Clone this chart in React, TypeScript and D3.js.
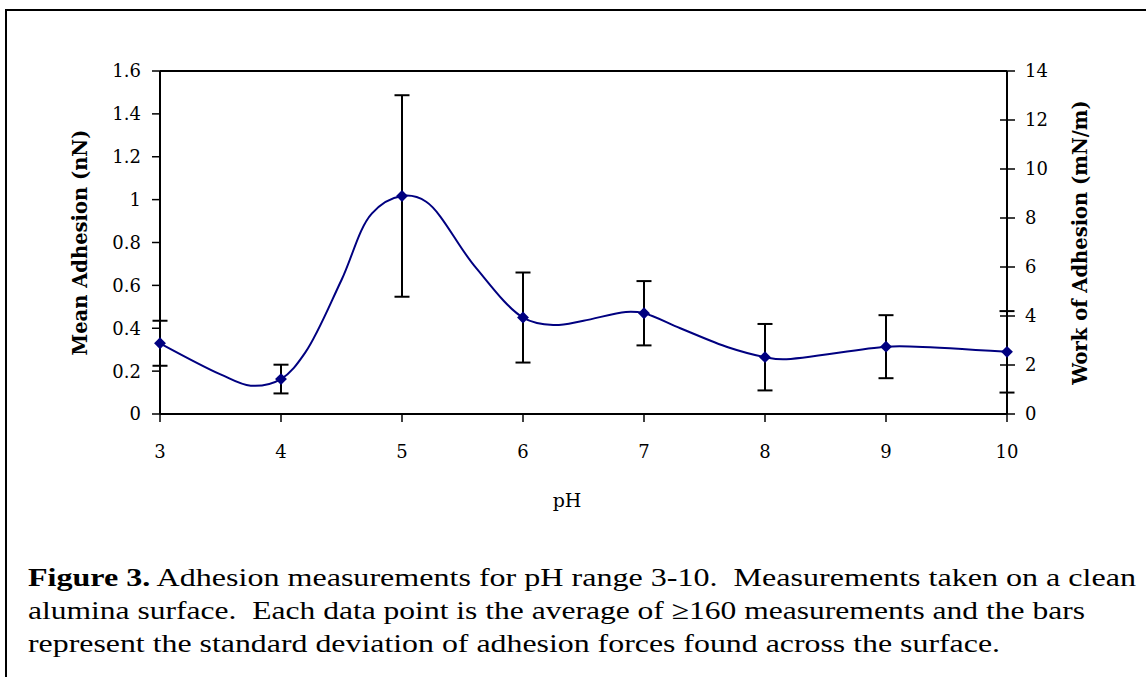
import React from 'react'
import * as d3 from 'd3'

// marker points with standard deviation bars
const pH = [3, 4, 5, 6, 7, 8, 9, 10]
const meanAdhesion = [0.33, 0.163, 1.017, 0.45, 0.47, 0.265, 0.314, 0.29]
const stdDev = [0.105, 0.067, 0.47, 0.21, 0.15, 0.155, 0.147, 0.19]

// smoothed trend line
const curvePH = [3, 3.5, 3.75, 4, 4.2, 4.5, 4.75, 5, 5.2, 5.6, 6, 6.25, 6.5, 6.85, 7, 7.3, 7.7, 8, 8.15, 9, 9.25, 10]
const curveValue = [0.33, 0.185, 0.132, 0.163, 0.286, 0.625, 0.935, 1.017, 0.99, 0.69, 0.45, 0.415, 0.435, 0.476, 0.47, 0.4, 0.31, 0.265, 0.255, 0.314, 0.314, 0.29]

const leftTicks = [0, 0.2, 0.4, 0.6, 0.8, 1, 1.2, 1.4, 1.6]
const rightTicks = [0, 2, 4, 6, 8, 10, 12, 14]

const captionLines = [
  { bold: 'Figure 3.', text: ' Adhesion measurements for pH range 3-10.  Measurements taken on a clean', width: 1108 },
  { bold: '', text: 'alumina surface.  Each data point is the average of \u2265160 measurements and the bars', width: 1057 },
  { bold: '', text: 'represent the standard deviation of adhesion forces found across the surface.', width: 972 },
]

const W = 1146
const H = 677
const plot = { left: 160, right: 1007, top: 71, bottom: 414 }
const navy = '#000080'
const axisFont = "'DejaVu Serif', serif"
const captionFont = "'Liberation Serif', 'Times New Roman', Times, serif"

export default function App() {
  const x = d3.scaleLinear().domain([3, 10]).range([plot.left, plot.right])
  const y = d3.scaleLinear().domain([0, 1.6]).range([plot.bottom, plot.top])
  const y2 = d3.scaleLinear().domain([0, 14]).range([plot.bottom, plot.top])

  const line = d3
    .line<number>()
    .x((d, i) => x(curvePH[i]))
    .y((d) => y(d))
    .curve(d3.curveCatmullRom.alpha(0.5))

  const marker = d3.symbol(d3.symbolSquare, 70)()

  return (
    <svg width={W} height={H} style={{ position: 'absolute', left: 0, top: 0 }}>
      <rect x={0} y={0} width={W} height={H} fill="#fff" />
      {/* figure frame */}
      <rect x={6} y={10} width={W + 20} height={H + 20} fill="none" stroke="#000" strokeWidth={2} />

      {/* plot frame top */}
      <line x1={plot.left} x2={plot.right} y1={plot.top} y2={plot.top} stroke="#000" strokeWidth={2} />

      {/* left axis */}
      <line x1={plot.left} x2={plot.left} y1={plot.top} y2={plot.bottom} stroke="#000" strokeWidth={2} />
      {leftTicks.map((t) => (
        <g key={'l' + t}>
          <line x1={plot.left - 8} x2={plot.left} y1={y(t)} y2={y(t)} stroke="#000" strokeWidth={1.5} />
          <text
            x={plot.left - 19}
            y={y(t)}
            dy="0.36em"
            textAnchor="end"
            style={{ fontFamily: axisFont, fontSize: 18 }}
            fill="#000"
          >
            {d3.format('~g')(t)}
          </text>
        </g>
      ))}
      <text
        transform={`translate(80,${(plot.top + plot.bottom) / 2}) rotate(-90)`}
        textAnchor="middle"
        dy="0.36em"
        style={{ fontFamily: axisFont, fontSize: 19.5, fontWeight: 'bold' }}
        fill="#000"
      >
        Mean Adhesion (nN)
      </text>

      {/* right axis */}
      <line x1={plot.right} x2={plot.right} y1={plot.top} y2={plot.bottom} stroke="#000" strokeWidth={2} />
      {rightTicks.map((t) => (
        <g key={'r' + t}>
          <line x1={plot.right - 7} x2={plot.right + 8} y1={y2(t)} y2={y2(t)} stroke="#000" strokeWidth={1.5} />
          <text
            x={plot.right + 18}
            y={y2(t)}
            dy="0.36em"
            textAnchor="start"
            style={{ fontFamily: axisFont, fontSize: 18 }}
            fill="#000"
          >
            {t}
          </text>
        </g>
      ))}
      <text
        transform={`translate(1080,${(plot.top + plot.bottom) / 2}) rotate(-90)`}
        textAnchor="middle"
        dy="0.36em"
        style={{ fontFamily: axisFont, fontSize: 19.5, fontWeight: 'bold' }}
        fill="#000"
      >
        Work of Adhesion (mN/m)
      </text>

      {/* x axis */}
      <line x1={plot.left} x2={plot.right} y1={plot.bottom} y2={plot.bottom} stroke="#000" strokeWidth={2} />
      {pH.map((t) => (
        <g key={'x' + t}>
          <line x1={x(t)} x2={x(t)} y1={plot.bottom} y2={plot.bottom + 8} stroke="#000" strokeWidth={1.5} />
          <text
            x={x(t)}
            y={452}
            dy="0.36em"
            textAnchor="middle"
            style={{ fontFamily: axisFont, fontSize: 18 }}
            fill="#000"
          >
            {t}
          </text>
        </g>
      ))}
      <text
        x={567}
        y={500}
        dy="0.36em"
        textAnchor="middle"
        style={{ fontFamily: axisFont, fontSize: 19 }}
        fill="#000"
      >
        pH
      </text>

      {/* error bars */}
      {pH.map((p, i) => {
        const cx = x(p)
        const hi = y(meanAdhesion[i] + stdDev[i])
        const lo = y(meanAdhesion[i] - stdDev[i])
        return (
          <g key={'e' + p} stroke="#000" strokeWidth={2}>
            <line x1={cx} x2={cx} y1={hi} y2={lo} />
            <line x1={cx - 7.5} x2={cx + 7.5} y1={hi} y2={hi} />
            <line x1={cx - 7.5} x2={cx + 7.5} y1={lo} y2={lo} />
          </g>
        )
      })}

      {/* smoothed line */}
      <path d={line(curveValue) || ''} fill="none" stroke={navy} strokeWidth={2} />

      {/* markers */}
      {pH.map((p, i) => (
        <path
          key={'m' + p}
          d={marker || ''}
          transform={`translate(${x(p)},${y(meanAdhesion[i])}) rotate(45)`}
          fill={navy}
        />
      ))}

      {/* caption */}
      {captionLines.map((l, i) => (
        <text
          key={'c' + i}
          x={28}
          y={577 + i * 33}
          dy="0.35em"
          style={{ fontFamily: captionFont, fontSize: 26, whiteSpace: 'pre' }}
          textLength={l.width}
          lengthAdjust="spacingAndGlyphs"
          fill="#000"
        >
          {l.bold && <tspan fontWeight="bold">{l.bold}</tspan>}
          {l.text}
        </text>
      ))}
    </svg>
  )
}
